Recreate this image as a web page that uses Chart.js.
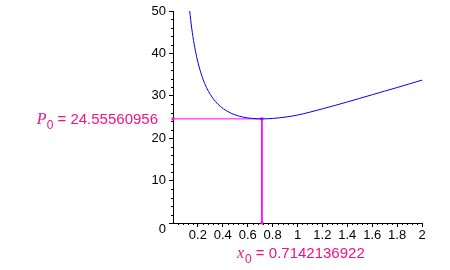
<!DOCTYPE html>
<html>
<head>
<meta charset="utf-8">
<script src="https://cdn.jsdelivr.net/npm/chart.js@4"></script>
<style>
  html, body { margin: 0; padding: 0; background: #ffffff; }
  #wrap { width: 450px; height: 270px; position: relative; }
</style>
</head>
<body>
<div id="wrap"><canvas id="c" width="450" height="270"></canvas></div>
<script>
// ---- data ----
const curveX = [0.134, 0.15, 0.17, 0.19, 0.21, 0.24, 0.27, 0.30, 0.34, 0.38, 0.43, 0.49, 0.56, 0.64, 0.714, 0.8, 0.9, 1.0, 1.1, 1.2, 1.3, 1.4, 1.5, 1.6, 1.7, 1.8, 1.9, 2.0];
const curveP = [50.0, 46.0, 42.2, 39.2, 36.8, 34.0, 31.9, 30.3, 28.7, 27.5, 26.45, 25.6, 25.0, 24.65, 24.56, 24.66, 24.97, 25.45, 26.15, 26.92, 27.72, 28.55, 29.4, 30.25, 31.1, 31.95, 32.82, 33.7];
const x0Value = 0.7142136922;
const p0Value = 24.55560956;
const x0Text = "0.7142136922";
const p0Text = "24.55560956";
const xTickValues = [0.2, 0.4, 0.6, 0.8, 1, 1.2, 1.4, 1.6, 1.8, 2];
const yTickValues = [0, 10, 20, 30, 40, 50];

const curvePts = curveX.map((x, i) => ({ x: x, y: curveP[i] }));
const markerPts = [{ x: 0, y: p0Value }, { x: x0Value, y: p0Value }, { x: x0Value, y: 0 }];

const MAG = '#ff00ff';
const MAGTXT = '#f0128a';

const minorTicks = {
  id: 'minorTicks',
  afterDraw(chart) {
    const ctx = chart.ctx, xs = chart.scales.x, ys = chart.scales.y;
    const ca = chart.chartArea;
    ctx.save();
    ctx.strokeStyle = '#000';
    ctx.lineWidth = 1;
    ctx.beginPath();
    for (let k = 1; k < 50; k++) {
      if (k % 5 === 0) continue;
      const px = Math.round(xs.getPixelForValue(k * 0.04)) + 0.5;
      ctx.moveTo(px, ca.bottom);
      ctx.lineTo(px, ca.bottom + 2);
    }
    for (let k = 1; k < 25; k++) {
      if (k % 5 === 0) continue;
      const py = Math.round(ys.getPixelForValue(k * 2)) + 0.5;
      ctx.moveTo(ca.left - 2, py);
      ctx.lineTo(ca.left, py);
    }
    ctx.stroke();
    ctx.restore();
  }
};

const magLabels = {
  id: 'magLabels',
  afterDraw(chart) {
    const ctx = chart.ctx, xs = chart.scales.x, ys = chart.scales.y;
    ctx.save();
    ctx.fillStyle = MAGTXT;
    ctx.textBaseline = 'alphabetic';
    const py = ys.getPixelForValue(p0Value) + 5;
    const mainFont = '15px "Liberation Sans", Arial, sans-serif';
    const symFont = 'italic 16px "Liberation Serif", "Times New Roman", serif';
    const subFont = '12px "Liberation Sans", Arial, sans-serif';
    const rightEdge = xs.getPixelForValue(0) - 15;
    ctx.font = mainFont;
    const restP = ' = ' + p0Text;
    const wRest = ctx.measureText(restP).width;
    ctx.font = subFont;
    const wSub = ctx.measureText('0').width;
    ctx.font = symFont;
    const wSym = ctx.measureText('P').width;
    let x = rightEdge - wRest - wSub - wSym;
    ctx.fillText('P', x, py);
    x += wSym;
    ctx.font = subFont;
    ctx.fillText('0', x, py + 5);
    x += wSub;
    ctx.font = mainFont;
    ctx.fillText(restP, x, py);
    const bx = xs.getPixelForValue(x0Value) - 25;
    const by = 258;
    let xx = bx;
    ctx.font = symFont;
    ctx.fillText('x', xx, by);
    xx += ctx.measureText('x').width + 1;
    ctx.font = subFont;
    ctx.fillText('0', xx, by + 5);
    xx += ctx.measureText('0').width;
    ctx.font = mainFont;
    ctx.fillText(' = ' + x0Text, xx, by);
    ctx.restore();
  }
};

new Chart(document.getElementById('c'), {
  type: 'scatter',
  data: {
    datasets: [
      {
        data: curvePts,
        showLine: true,
        borderColor: '#0000ff',
        borderWidth: 1,
        pointRadius: 0,
        cubicInterpolationMode: 'monotone',
        fill: false
      },
      {
        data: markerPts,
        showLine: true,
        borderColor: MAG,
        borderWidth: 1,
        pointRadius: 2,
        pointStyle: 'rect',
        pointBackgroundColor: MAG,
        pointBorderColor: MAG,
        pointBorderWidth: 0,
        tension: 0,
        clip: false
      }
    ]
  },
  options: {
    responsive: false,
    animation: false,
    devicePixelRatio: 1,
    events: [],
    layout: { padding: { top: 11, right: 28, bottom: 0, left: 0 } },
    plugins: { legend: { display: false }, tooltip: { enabled: false } },
    scales: {
      x: {
        type: 'linear',
        min: 0, max: 2,
        afterBuildTicks(scale) { scale.ticks = xTickValues.map(v => ({ value: v })); },
        afterFit(scale) { scale.height = 47; },
        grid: { drawOnChartArea: false, tickLength: 4, color: '#000', tickColor: '#000' },
        border: { display: true, color: '#000', width: 1 },
        ticks: {
          color: '#000',
          padding: 1,
          maxRotation: 0,
          autoSkip: false,
          font: { family: '"Liberation Sans", Arial, sans-serif', size: 13 },
          callback: (v) => String(v)
        }
      },
      y: {
        type: 'linear',
        min: 0, max: 50,
        afterBuildTicks(scale) { scale.ticks = yTickValues.map(v => ({ value: v })); },
        afterFit(scale) { scale.width = 173; },
        grid: { drawOnChartArea: false, tickLength: 4, color: '#000', tickColor: '#000' },
        border: { display: true, color: '#000', width: 1 },
        ticks: {
          color: '#000',
          padding: 3,
          autoSkip: false,
          font: (ctx) => ({ family: '"Liberation Sans", Arial, sans-serif', size: 13, lineHeight: (ctx.tick && ctx.tick.value === 0) ? '13px' : 1.2 }),
          callback: (v) => v === 0 ? ['', '0'] : String(v)
        }
      }
    }
  },
  plugins: [minorTicks, magLabels]
});
</script>
</body>
</html>
